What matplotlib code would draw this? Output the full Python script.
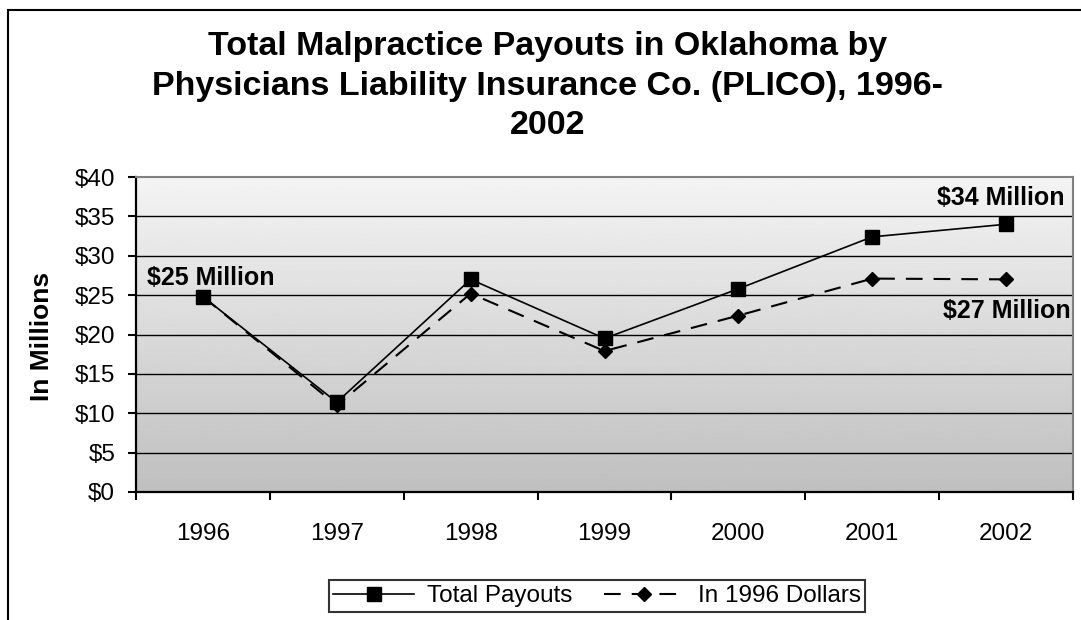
import numpy as np
import matplotlib.pyplot as plt
from matplotlib.patches import Rectangle
from matplotlib.ticker import FixedLocator, NullFormatter

plt.rcParams['font.family'] = ['Liberation Sans', 'DejaVu Sans']

years = ['1996', '1997', '1998', '1999', '2000', '2001', '2002']
total_payouts = [24.8, 11.4, 27.0, 19.5, 25.8, 32.4, 34.0]
in_1996_dollars = [24.8, 11.0, 25.2, 17.9, 22.4, 27.1, 27.0]
y_ticks = [0, 5, 10, 15, 20, 25, 30, 35, 40]

W, H = 1081, 620
fig = plt.figure(figsize=(W / 100, H / 100), dpi=100)
fig.patch.set_facecolor('white')

# outer chart border (cut off at right / bottom like the reference)
fig.patches.append(Rectangle((8 / W, -0.1), 1.2, 1 - 10 / H + 0.1,
                             transform=fig.transFigure, fill=False,
                             edgecolor='black', linewidth=1.5))

ax = fig.add_axes([136 / W, 128 / H, 937 / W, 315 / H])
x = np.arange(len(years))

# gradient background
grad = np.linspace(0.955, 0.75, 256).reshape(-1, 1)
ax.imshow(grad, cmap='gray', vmin=0, vmax=1, aspect='auto',
          extent=[-0.5, 6.5, 0, 40], origin='upper', zorder=0)

for v in y_ticks[1:-1]:
    ax.axhline(v, color='black', linewidth=1.0, zorder=1)

ax.plot(x, total_payouts, color='black', linewidth=1.2, marker='s',
        markersize=9.5, label='Total Payouts', zorder=3)
ax.plot(x, in_1996_dollars, color='black', linewidth=1.5, linestyle=(0, (8, 5.3)),
        marker='D', markersize=7, label='In 1996 Dollars', zorder=3)

ax.set_xlim(-0.5, 6.5)
ax.set_ylim(0, 40)
ax.set_yticks(y_ticks)
ax.set_yticklabels(['$' + str(v) for v in y_ticks], fontsize=17.5)
ax.set_xticks(x)
ax.set_xticklabels(years, fontsize=17.5)
ax.xaxis.set_minor_locator(FixedLocator(np.arange(-0.5, 7, 1)))
ax.xaxis.set_minor_formatter(NullFormatter())
ax.tick_params(axis='x', which='major', length=0, pad=22)
ax.tick_params(axis='x', which='minor', length=6, width=1.5, direction='out')
ax.tick_params(axis='y', length=6, width=1.5, direction='out', pad=9)

ax.spines['left'].set_linewidth(1.6)
ax.spines['bottom'].set_linewidth(1.6)
ax.spines['top'].set_color('#808080')
ax.spines['right'].set_color('#808080')
ax.spines['top'].set_linewidth(1.5)
ax.spines['right'].set_linewidth(1.5)

fig.text(42 / W, 1 - 336 / H, 'In Millions', rotation=90, ha='center', va='center',
         fontsize=19, fontweight='bold')

ax.text(-0.418, 26.3, '$25 Million', fontsize=18, fontweight='bold',
        ha='left', va='baseline')
ax.text(6.44, 36.4, '$34 Million', fontsize=18, fontweight='bold',
        ha='right', va='baseline')
ax.text(6.485, 22.1, '$27 Million', fontsize=18, fontweight='bold',
        ha='right', va='baseline', clip_on=False)

# baseline of the last title line sits at ~135 px from the top
fig.text(548 / W, 1 - 134 / H, 'Total Malpractice Payouts in Oklahoma by\n'
         'Physicians Liability Insurance Co. (PLICO), 1996-\n2002',
         ha='center', va='baseline', fontsize=24.5, fontweight='bold',
         linespacing=1.35)

leg = fig.legend(loc='center', bbox_to_anchor=(597 / W, 1 - 596 / H), ncol=2,
                 fontsize=17.5, frameon=True, fancybox=False, handlelength=3.3,
                 columnspacing=1.3, handletextpad=0.55, borderpad=0.2,
                 borderaxespad=0)
leg.get_frame().set_edgecolor('black')
leg.get_frame().set_linewidth(1.5)

fig.savefig('out.png', dpi=100)
